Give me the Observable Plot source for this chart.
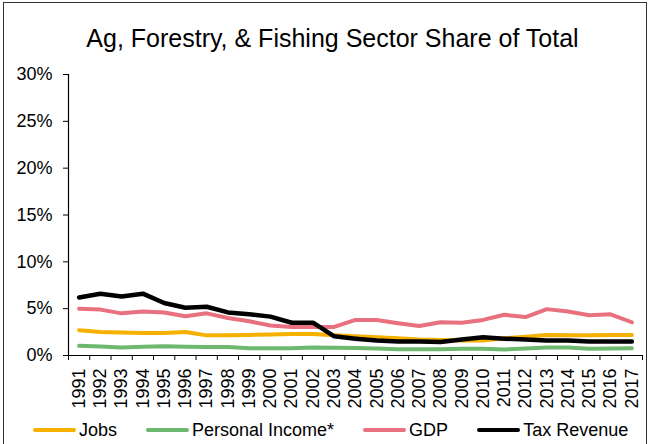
<!DOCTYPE html>
<html><head><meta charset="utf-8">
<script src="https://cdn.jsdelivr.net/npm/d3@7"></script>
<script src="https://cdn.jsdelivr.net/npm/@observablehq/plot@0.6"></script>
<style>
html,body{margin:0;padding:0;background:#fff;}
#wrap{position:relative;width:650px;height:444px;overflow:hidden;font-family:"Liberation Sans",Arial,sans-serif;color:#000;background:#fff;}
#border{position:absolute;left:3px;top:2px;width:644px;height:470px;border:1.5px solid #333;box-sizing:border-box;}
#chart{position:absolute;left:0;top:0;}
#title{position:absolute;left:0;top:26px;width:665px;text-align:center;font-size:25px;line-height:24px;white-space:nowrap;}
#legend{position:absolute;left:33px;top:420px;height:20px;display:flex;align-items:center;gap:29px;font-size:18px;line-height:20px;white-space:nowrap;}
.item{display:flex;align-items:center;}
.swatch{width:43px;height:4px;margin-right:3px;border-radius:2px;}
</style></head>
<body>
<div id="wrap">
  <div id="chart"></div>
  <div id="border"></div>
  <div id="title"></div>
  <div id="legend"></div>
</div>
<script>
const title = "Ag, Forestry, & Fishing Sector Share of Total";
const years = [1991,1992,1993,1994,1995,1996,1997,1998,1999,2000,2001,2002,2003,2004,2005,2006,2007,2008,2009,2010,2011,2012,2013,2014,2015,2016,2017];
const jobs = [2.7,2.5,2.45,2.4,2.4,2.5,2.15,2.15,2.2,2.25,2.3,2.3,2.15,2.05,1.95,1.85,1.7,1.65,1.6,1.6,1.85,2.0,2.2,2.15,2.15,2.2,2.2];
const personalIncome = [1.03,0.95,0.85,0.93,1.0,0.93,0.9,0.9,0.78,0.78,0.78,0.85,0.82,0.8,0.75,0.68,0.68,0.68,0.72,0.72,0.65,0.75,0.85,0.85,0.72,0.75,0.78];
const gdp = [5.0,4.9,4.5,4.7,4.6,4.2,4.5,4.0,3.65,3.2,3.05,3.05,3.05,3.8,3.8,3.45,3.15,3.55,3.5,3.8,4.35,4.1,4.95,4.7,4.3,4.4,3.55];
const taxRevenue = [6.2,6.6,6.3,6.6,5.6,5.1,5.2,4.6,4.4,4.15,3.5,3.5,2.05,1.8,1.6,1.5,1.5,1.45,1.7,1.95,1.8,1.7,1.6,1.6,1.5,1.5,1.5];
const yTicks = [0,5,10,15,20,25,30];
const seriesNames = ["Jobs","Personal Income*","GDP","Tax Revenue"];
const seriesColors = ["#F5B000","#6BB86E","#E8707F","#000000"];
const seriesValues = [jobs, personalIncome, gdp, taxRevenue];
const seriesWidths = [4, 4, 4, 4.5];

const tickEdges = years.map(y => y - 0.5).concat([years[years.length-1] + 0.5]);
const xDomain = [tickEdges[0], tickEdges[tickEdges.length-1]];

const lineMarks = seriesValues.map((vals, i) =>
  Plot.line(years.map((y, j) => ({year: y, value: vals[j]})), {
    x: "year", y: "value", stroke: seriesColors[i], strokeWidth: seriesWidths[i],
    strokeLinejoin: "round", strokeLinecap: "round"
  })
);

const plot = Plot.plot({
  width: 650, height: 444,
  marginLeft: 68, marginRight: 8, marginTop: 74, marginBottom: 89,
  style: {fontFamily: '"Liberation Sans", Arial, sans-serif', fontSize: "18px", color: "#000", background: "transparent"},
  x: {type: "linear", domain: xDomain, axis: null},
  y: {domain: [yTicks[0], yTicks[yTicks.length-1]], axis: null},
  marks: [
    Plot.axisY({ticks: yTicks, tickSize: 5, tickPadding: 11, tickFormat: d => d + "%", anchor: "left", label: null}),
    Plot.axisX({ticks: tickEdges, tickSize: 5, tickFormat: () => "", anchor: "bottom", label: null}),
    Plot.axisX({ticks: years, tickSize: 0, tickPadding: 13, tickRotate: -90, tickFormat: d => String(d), anchor: "bottom", label: null}),
    Plot.ruleX([xDomain[0]], {y1: yTicks[0], y2: yTicks[yTicks.length-1], stroke: "#000", strokeWidth: 1.2}),
    Plot.ruleY([yTicks[0]], {stroke: "#000", strokeWidth: 1.2}),
    ...lineMarks
  ]
});
document.getElementById("chart").appendChild(plot);
document.getElementById("title").textContent = title;

const legend = document.getElementById("legend");
seriesNames.forEach((name, i) => {
  const item = document.createElement("div");
  item.className = "item";
  const sw = document.createElement("span");
  sw.className = "swatch";
  sw.style.background = seriesColors[i];
  const t = document.createElement("span");
  t.textContent = name;
  item.appendChild(sw); item.appendChild(t);
  legend.appendChild(item);
});
</script>
</body></html>
